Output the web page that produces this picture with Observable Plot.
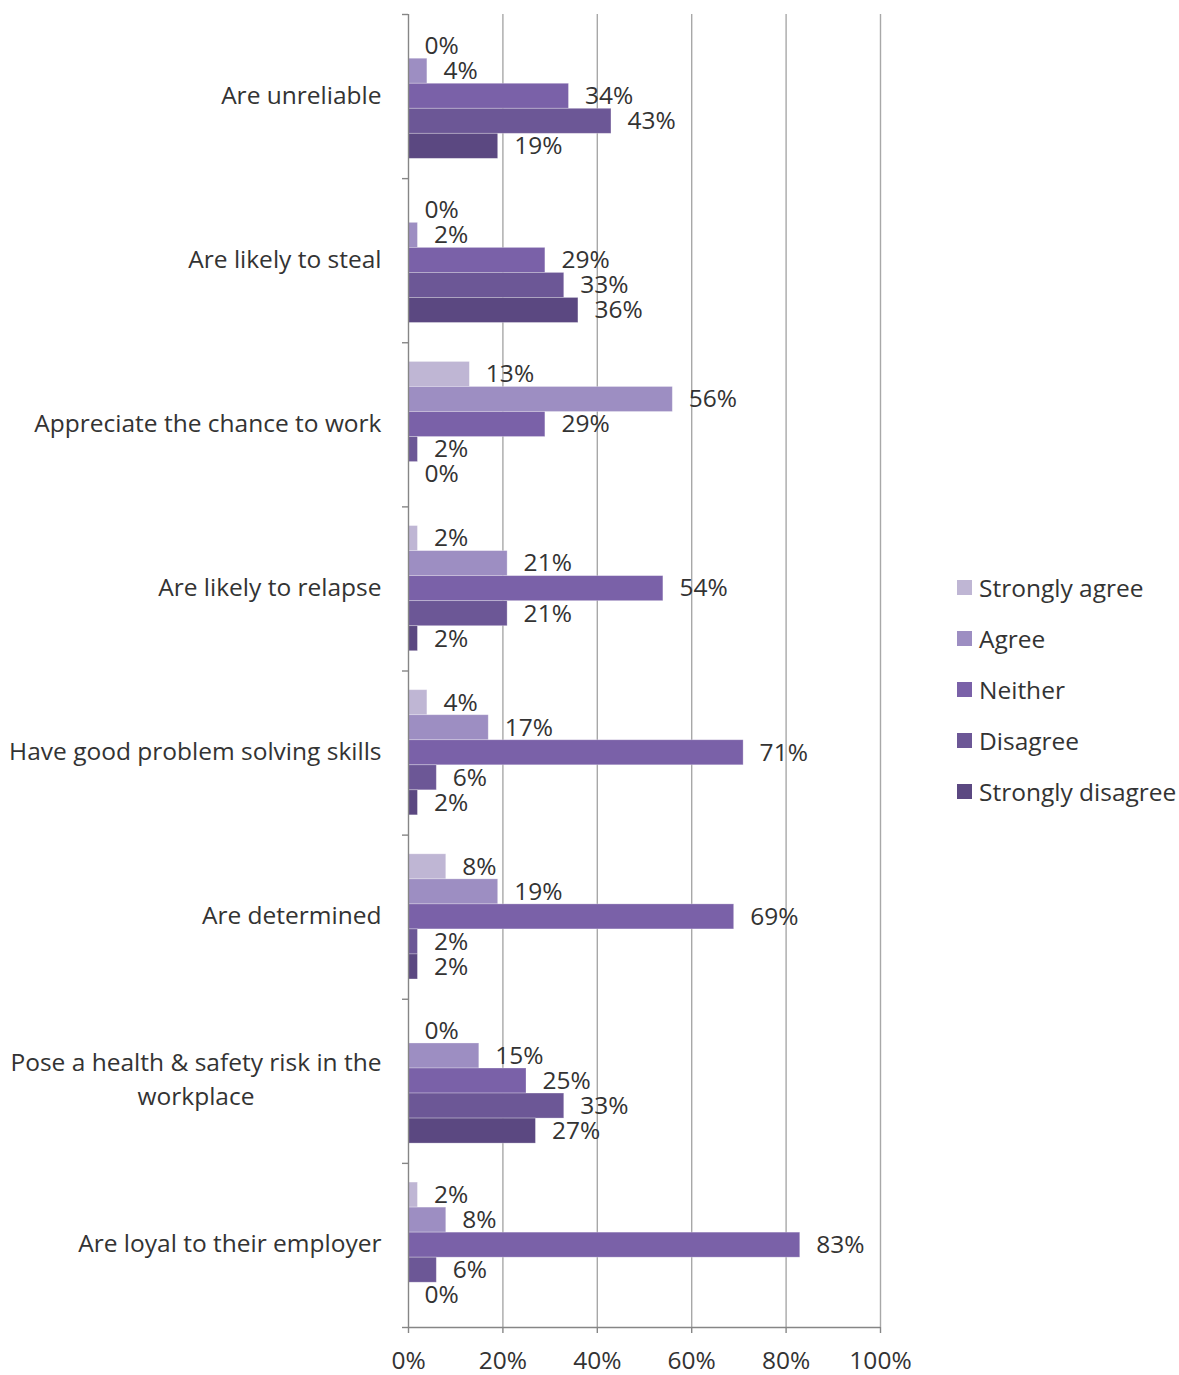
<!DOCTYPE html>
<html>
<head>
<meta charset="utf-8">
<script src="https://cdn.jsdelivr.net/npm/d3@7"></script>
<script src="https://cdn.jsdelivr.net/npm/@observablehq/plot@0.6"></script>
<style>
  body { margin: 0; background: #fff; font-family: "Open Sans", sans-serif; }
  #wrap { position: relative; width: 1179px; height: 1375px; overflow: hidden; }
  #legend { position: absolute; left: 957px; top: 562px; font-size: 24.5px; color: #333333; white-space: nowrap; }
  #legend .row { display: flex; align-items: center; height: 51px; }
  #legend .sw { width: 15px; height: 15px; margin-right: 7px; flex: none; }
</style>
</head>
<body>
<div id="wrap">
  <div id="chart"></div>
  <div id="legend"></div>
</div>
<script>
const categories = [
  "Are unreliable",
  "Are likely to steal",
  "Appreciate the chance to work",
  "Are likely to relapse",
  "Have good problem solving skills",
  "Are determined",
  "Pose a health & safety risk in the\nworkplace",
  "Are loyal to their employer"
];
const responses = ["Strongly agree", "Agree", "Neither", "Disagree", "Strongly disagree"];
const stronglyAgree    = [0, 0, 13, 2, 4, 8, 0, 2];
const agree            = [4, 2, 56, 21, 17, 19, 15, 8];
const neither          = [34, 29, 29, 54, 71, 69, 25, 83];
const disagree         = [43, 33, 2, 21, 6, 2, 33, 6];
const stronglyDisagree = [19, 36, 0, 2, 2, 2, 27, 0];
const xTicks = [0, 20, 40, 60, 80, 100];
const colors = ["#bfb6d4", "#9d8ec2", "#7a61a8", "#6c5796", "#5b4881"];

const series = [stronglyAgree, agree, neither, disagree, stronglyDisagree];
const rows = [];
categories.forEach((c, ci) => {
  responses.forEach((r, ri) => {
    rows.push({category: c, ci, response: r, ri, value: series[ri][ci]});
  });
});

const pad = 0.117, bw = 0.1525;
const y1 = d => d.ci + pad + d.ri * bw;
const y2 = d => d.ci + pad + (d.ri + 1) * bw;
const ym = d => d.ci + pad + (d.ri + 0.5) * bw;

const axisColor = "#868686";
const textColor = "#333333";
const font = "'Open Sans', sans-serif";
const fs = 24.5;

const chart = Plot.plot({
  width: 1179,
  height: 1375,
  marginLeft: 408,
  marginRight: 299,
  marginTop: 14,
  marginBottom: 48,
  style: {fontFamily: font, fontSize: fs + "px", color: textColor, background: "#fff"},
  x: {domain: [0, 100], axis: null},
  y: {type: "linear", domain: [0, categories.length], reverse: true, axis: null},
  color: {domain: responses, range: colors},
  marks: [
    Plot.ruleX(xTicks.filter(d => d > 0), {y1: 0, y2: categories.length, stroke: "#a8a8a8", strokeWidth: 1.4}),
    Plot.rect(rows, {x1: 0, x2: "value", y1, y2, fill: "response", stroke: "#ffffff", strokeOpacity: 0.35, strokeWidth: 0.8}),
    Plot.ruleX([0], {y1: 0, y2: categories.length, stroke: axisColor, strokeWidth: 1.4}),
    Plot.ruleY([categories.length], {x1: 0, x2: 100, stroke: axisColor, strokeWidth: 1.4}),
    Plot.axisY({ticks: d3.range(categories.length + 1), tickSize: 6, tickFormat: () => "", label: null, stroke: axisColor, strokeWidth: 1.4}),
    Plot.axisX({ticks: xTicks, tickSize: 6, tickPadding: 18, tickFormat: d => d + "%", label: null, stroke: axisColor, strokeWidth: 1.4, fill: textColor, fontSize: fs}),
    Plot.text(rows, {x: "value", y: ym, text: d => d.value + "%", dx: 16, textAnchor: "start", fill: textColor, fontSize: fs}),
    Plot.text(categories, {x: 0, y: (d, i) => i + 0.5, text: d => d, textAnchor: "end", dx: -27, dy: -4, fill: textColor, fontSize: fs, lineHeight: 1.4})
  ]
});
document.getElementById("chart").appendChild(chart);

// center multi-line category labels on their widest line (as in the original)
chart.querySelectorAll("text").forEach(t => {
  const spans = t.querySelectorAll("tspan");
  if (spans.length > 1) {
    const widths = Array.from(spans, s => s.getComputedTextLength());
    const maxW = Math.max(...widths);
    t.setAttribute("text-anchor", "middle");
    const tr = t.getAttribute("transform");
    t.setAttribute("transform", (tr || "") + ` translate(${-maxW / 2},0)`);
  }
});

const legend = document.getElementById("legend");
responses.forEach((r, i) => {
  const row = document.createElement("div");
  row.className = "row";
  row.innerHTML = `<div class="sw" style="background:${colors[i]}"></div><span>${r}</span>`;
  legend.appendChild(row);
});
</script>
</body>
</html>
